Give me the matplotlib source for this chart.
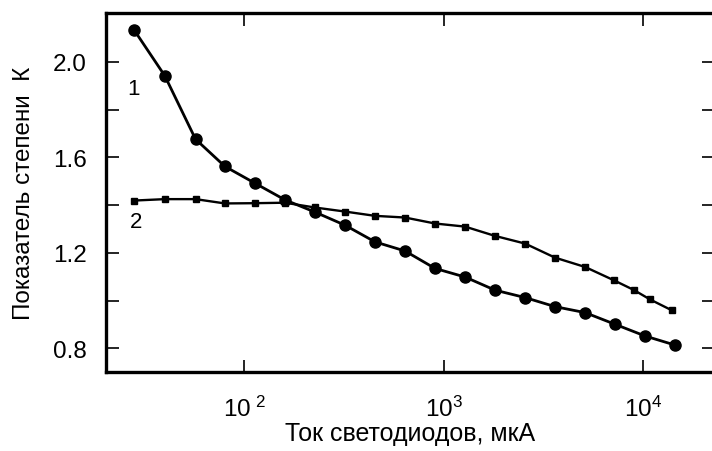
#!/usr/bin/env python3

import numpy as np
import matplotlib
matplotlib.use('Agg')
import matplotlib.pyplot as plt
from matplotlib.ticker import FixedLocator, NullLocator

# curve 1 (circles)
current_1 = [28, 40, 57, 80, 113, 160, 226, 320, 453, 640,
			 905, 1280, 1810, 2560, 3620, 5120, 7240, 10240, 14480]
k_1 = [2.134, 1.941, 1.676, 1.562, 1.492, 1.422, 1.371, 1.316, 1.246, 1.208,
	   1.135, 1.099, 1.044, 1.013, 0.975, 0.950, 0.901, 0.852, 0.814]

# curve 2 (squares)
current_2 = [28, 40, 57, 80, 113, 160, 226, 320, 453, 640,
			 905, 1280, 1810, 2560, 3620, 5120, 7150, 8970, 10840, 13900]
k_2 = [1.419, 1.425, 1.425, 1.407, 1.408, 1.410, 1.390, 1.373, 1.355, 1.348,
	   1.323, 1.310, 1.271, 1.239, 1.180, 1.141, 1.085, 1.045, 1.005, 0.960]

x_ticks = [1e2, 1e3, 1e4]
x_tick_labels = [r'$\mathregular{10^{\ 2}}$', r'$\mathregular{10^{3}}$', r'$\mathregular{10^{4}}$']
y_major = [0.8, 1.2, 1.6, 2.0]
y_minor = [1.0, 1.4, 1.8]


def plot_k(ax):
	"""
	Draw both curves with curve numbers
	"""
	ax.plot(current_1, k_1, color='black', lw=2.0, marker='o', ms=8)
	ax.plot(current_2, k_2, color='black', lw=1.7, marker='s', ms=5)
	ax.text(27.8, 1.89, '1', fontsize=16, ha='center', va='center')
	ax.text(28.6, 1.33, '2', fontsize=16, ha='center', va='center')


def main():
	plt.rcParams['font.family'] = ['Liberation Sans', 'DejaVu Sans']
	plt.rcParams['mathtext.fontset'] = 'custom'
	plt.rcParams['mathtext.rm'] = 'Liberation Sans'

	fig = plt.figure(figsize=(7.12, 4.52), dpi=100)
	ax = fig.add_axes([0.149, 0.174, 0.854, 0.795])

	plot_k(ax)

	ax.set_xscale('log')
	ax.set_xlim(20.3, 22700)
	ax.set_ylim(0.7, 2.204)

	ax.xaxis.set_major_locator(FixedLocator(x_ticks))
	ax.xaxis.set_minor_locator(NullLocator())
	ax.set_xticklabels(x_tick_labels)
	ax.yaxis.set_major_locator(FixedLocator(y_major))
	ax.yaxis.set_minor_locator(FixedLocator(y_minor))
	ax.set_yticklabels(['0.8', '1.2', '1.6', '2.0'])

	ax.tick_params(which='both', direction='in', top=True, right=True,
				   length=9, width=1.2, labelsize=17.5)
	ax.tick_params(axis='y', pad=14)
	ax.tick_params(axis='x', pad=17)
	for sp in ax.spines.values():
		sp.set_linewidth(2.4)

	ax.set_xlabel('Ток светодиодов, мкА', fontsize=18, labelpad=0)
	ax.set_ylabel('Показатель степени  К', fontsize=17.5, labelpad=13)

	fig.savefig('out.png', dpi=100)


if __name__ == '__main__':
	main()
